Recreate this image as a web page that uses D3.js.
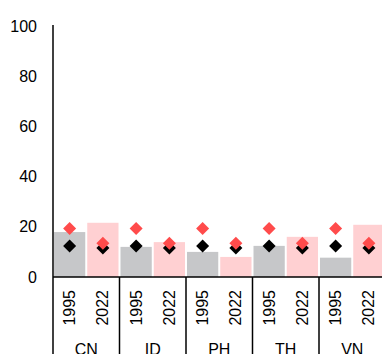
<!DOCTYPE html>
<html>
<head>
<meta charset="utf-8">
<script src="https://cdn.jsdelivr.net/npm/d3@7"></script>
<style>
  html, body { margin: 0; padding: 0; background: #fff; }
  svg { display: block; font-family: "Liberation Sans", Arial, sans-serif; }
</style>
</head>
<body>
<svg id="chart" width="382" height="354"></svg>
<script>
// Economies and years
const countries = ["CN", "ID", "PH", "TH", "VN"];
const years = ["1995", "2022"];

// Bar values per economy
const bars1995 = [17.9, 12.0, 10.0, 12.4, 7.7];
const bars2022 = [21.6, 13.9, 8.0, 16.0, 20.8];

// Diamond markers per economy
const redDiamond1995 = [19.3, 19.3, 19.3, 19.3, 19.3];
const redDiamond2022 = [13.4, 13.4, 13.4, 13.4, 13.4];
const blackDiamond1995 = [12.4, 12.4, 12.4, 12.4, 12.4];
const blackDiamond2022 = [11.6, 11.6, 11.6, 11.6, 11.6];

// Y axis ticks
const yTicks = [0, 20, 40, 60, 80, 100];

const svg = d3.select("#chart");
const W = 382, H = 354;
const plotLeft = 53, plotRight = 385.5, plotTop = 26, plotBase = 277;

const rows = [];
countries.forEach((c, i) => {
  rows.push({ key: c + "-1995", country: c, year: "1995", bar: bars1995[i], red: redDiamond1995[i], black: blackDiamond1995[i] });
  rows.push({ key: c + "-2022", country: c, year: "2022", bar: bars2022[i], red: redDiamond2022[i], black: blackDiamond2022[i] });
});

const xGroup = d3.scaleBand().domain(countries).range([plotLeft, plotRight]);
const xInner = d3.scaleBand().domain(years).range([0, xGroup.bandwidth()]).paddingInner(0.06).paddingOuter(0.03);
const y = d3.scaleLinear().domain([0, 100]).range([plotBase, plotTop]);

const barColor = { "1995": "#c6c7c9", "2022": "#ffd0d2" };

// Bars
svg.append("g").selectAll("rect").data(rows).join("rect")
  .attr("x", d => xGroup(d.country) + xInner(d.year))
  .attr("width", xInner.bandwidth())
  .attr("y", d => y(d.bar))
  .attr("height", d => y(0) - y(d.bar))
  .attr("fill", d => barColor[d.year]);

const cx = d => xGroup(d.country) + xInner(d.year) + xInner.bandwidth() / 2;
const diamond = r => `M0,${-r}L${r},0L0,${r}L${-r},0Z`;

// Black diamonds beneath red ones
svg.append("g").selectAll("path").data(rows).join("path")
  .attr("d", diamond(6.5))
  .attr("transform", d => `translate(${cx(d)},${y(d.black)})`)
  .attr("fill", "#000");

svg.append("g").selectAll("path").data(rows).join("path")
  .attr("d", diamond(6.5))
  .attr("transform", d => `translate(${cx(d)},${y(d.red)})`)
  .attr("fill", "#ff4b4b");

// Y axis: labels only
const yAxis = d3.axisLeft(y).tickValues(yTicks).tickSize(0).tickPadding(16);
const gy = svg.append("g").attr("transform", `translate(${plotLeft},0)`).call(yAxis);
gy.select(".domain").remove();
gy.selectAll("text").attr("font-size", 16).attr("fill", "#000")
  .attr("font-family", "Liberation Sans, Arial, sans-serif");

// Axis lines
svg.append("line").attr("x1", plotLeft).attr("x2", plotLeft).attr("y1", 25).attr("y2", H)
  .attr("stroke", "#000").attr("stroke-width", 1.5);
svg.append("line").attr("x1", plotLeft).attr("x2", W + 5).attr("y1", plotBase).attr("y2", plotBase)
  .attr("stroke", "#000").attr("stroke-width", 1.5);

// Group separators below the axis
svg.append("g").selectAll("line").data(countries.slice(1).concat(["end"])).join("line")
  .attr("x1", d => d === "end" ? plotRight : xGroup(d))
  .attr("x2", d => d === "end" ? plotRight : xGroup(d))
  .attr("y1", plotBase).attr("y2", H)
  .attr("stroke", "#000").attr("stroke-width", 1.5);

// Year labels (rotated)
svg.append("g").selectAll("text").data(rows).join("text")
  .attr("transform", d => `translate(${cx(d)},290) rotate(-90)`)
  .attr("text-anchor", "end")
  .attr("dy", "0.35em")
  .attr("font-size", 16)
  .attr("fill", "#000")
  .text(d => d.year);

// Country labels
svg.append("g").selectAll("text").data(countries).join("text")
  .attr("x", d => xGroup(d) + xGroup.bandwidth() / 2)
  .attr("y", 354.5)
  .attr("text-anchor", "middle")
  .attr("font-size", 16)
  .attr("fill", "#000")
  .text(d => d);
</script>
</body>
</html>
